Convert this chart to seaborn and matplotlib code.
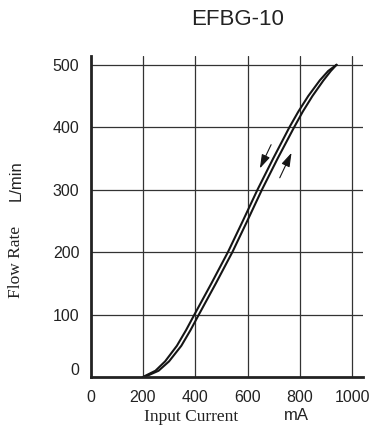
import matplotlib
matplotlib.use("Agg")
import matplotlib.pyplot as plt
import matplotlib.transforms as mtransforms
import seaborn as sns
import pandas as pd

# Data
flow = [0, 10, 25, 50, 75, 100, 150, 200, 250, 300, 350, 400, 425, 450, 475, 490, 500]
current_down = [200, 248, 285, 330, 365, 397, 462, 525, 582, 638, 698, 760, 794, 832, 876, 908, 940]
current_up = [206, 260, 300, 347, 382, 414, 479, 542, 599, 655, 715, 778, 811, 848, 890, 918, 940]
x_ticks = [0, 200, 400, 600, 800, 1000]
y_ticks = [0, 100, 200, 300, 400, 500]
title = "EFBG-10"

sns.set_theme(style="white")
plt.rcParams["font.family"] = ["Liberation Sans", "DejaVu Sans"]

W, H = 389, 430
fig = plt.figure(figsize=(W / 100, H / 100), dpi=100)
left, right, top, bottom = 90.5, 363, 56, 377
ax = fig.add_axes([left / W, 1 - bottom / H, (right - left) / W, (bottom - top) / H])

df = pd.DataFrame({"flow": flow, "down": current_down, "up": current_up})
ink = "#151515"
sns.lineplot(data=df, x="down", y="flow", sort=False, estimator=None, color=ink, lw=1.5, ax=ax)
sns.lineplot(data=df, x="up", y="flow", sort=False, estimator=None, color=ink, lw=1.5, ax=ax)

ax.set_xlim(0, 1041)
ax.set_ylim(0, 514)
ax.set_xticks(x_ticks)
ax.set_yticks(y_ticks)
ax.set_xticklabels([str(v) for v in x_ticks])
ax.set_yticklabels([str(v) for v in y_ticks])
ax.set_xlabel("")
ax.set_ylabel("")

for v in x_ticks[1:]:
    ax.axvline(v, color="#333333", lw=0.9, zorder=0)
for v in y_ticks[1:]:
    ax.axhline(v, color="#333333", lw=0.9, zorder=0)

for s in ["top", "right"]:
    ax.spines[s].set_visible(False)
for s in ["left", "bottom"]:
    ax.spines[s].set_color("#222222")
    ax.spines[s].set_linewidth(2)

ax.tick_params(axis="both", length=0, labelsize=11.5, labelcolor="#222222")
ax.tick_params(axis="x", pad=9)
ax.tick_params(axis="y", pad=8)
# shift the "0" label on the y axis upward slightly, as in the reference
lab0 = ax.get_yticklabels()[0]
lab0.set_transform(lab0.get_transform() + mtransforms.ScaledTranslation(0, 8 / 100, fig.dpi_scale_trans))

# arrows
ap = dict(arrowstyle="-|>,head_length=0.7,head_width=0.22", lw=0.8, color=ink, shrinkA=0, shrinkB=0)
ax.annotate("", xy=(647, 334), xytext=(690, 372), arrowprops=ap)
ax.annotate("", xy=(768, 359), xytext=(723, 319), arrowprops=ap)

# title and axis labels
fig.text(237.5 / W, 1 - 19.5 / H, title, ha="center", va="center", fontsize=16, color="#222222",
         family=["Liberation Sans", "DejaVu Sans"])
fig.text(191 / W, 1 - 417 / H, "Input Current", ha="center", va="center", fontsize=12.5,
         color="#222222", family=["Liberation Serif", "DejaVu Serif"])
fig.text(296 / W, 1 - 416 / H, "mA", ha="center", va="center", fontsize=12, color="#222222",
         family=["Liberation Sans", "DejaVu Sans"])
fig.text(16 / W, 1 - 262 / H, "Flow Rate", ha="center", va="center", rotation=90, fontsize=12.5,
         color="#222222", family=["Liberation Serif", "DejaVu Serif"])
fig.text(16 / W, 1 - 181 / H, "L/min", ha="center", va="center", rotation=90, fontsize=12,
         color="#222222", family=["Liberation Sans", "DejaVu Sans"])

fig.savefig("out.png", dpi=100)
